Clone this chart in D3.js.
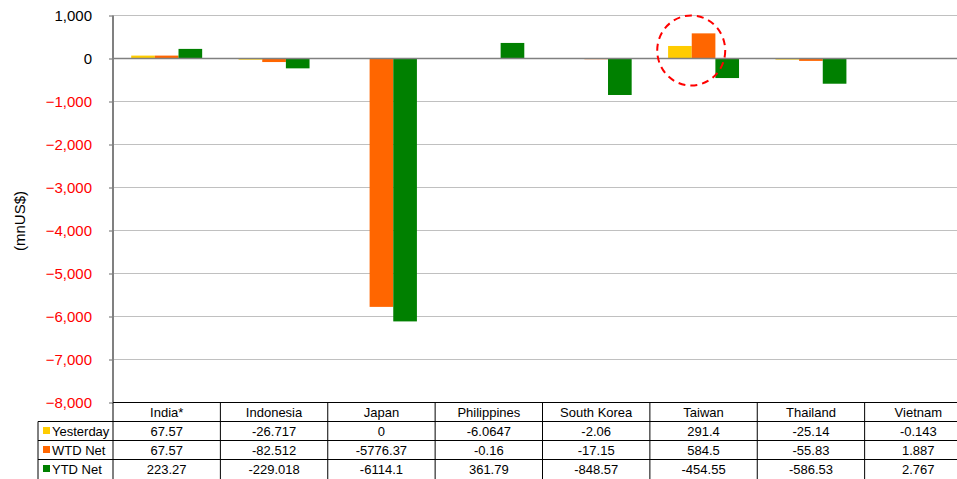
<!DOCTYPE html>
<html><head><meta charset="utf-8">
<script src="https://cdn.jsdelivr.net/npm/d3@7"></script>
<style>body{margin:0;background:#fff;overflow:hidden}svg{display:block}text{font-family:Arial,"Liberation Sans",sans-serif}</style>
</head><body>
<script>
const categories = ["India*","Indonesia","Japan","Philippines","South Korea","Taiwan","Thailand","Vietnam"];
const seriesNames = ["Yesterday","WTD Net","YTD Net"];
const yesterday = [67.57,-26.717,0,-6.0647,-2.06,291.4,-25.14,-0.143];
const wtdNet = [67.57,-82.512,-5776.37,-0.16,-17.15,584.5,-55.83,1.887];
const ytdNet = [223.27,-229.018,-6114.1,361.79,-848.57,-454.55,-586.53,2.767];
const yesterdayLabels = ["67.57","-26.717","0","-6.0647","-2.06","291.4","-25.14","-0.143"];
const wtdLabels = ["67.57","-82.512","-5776.37","-0.16","-17.15","584.5","-55.83","1.887"];
const ytdLabels = ["223.27","-229.018","-6114.1","361.79","-848.57","-454.55","-586.53","2.767"];
const yTicks = [1000,0,-1000,-2000,-3000,-4000,-5000,-6000,-7000,-8000];
const colors = ["#FFCC00","#FF6600","#008000"];

const W=957,H=479;
const svg=d3.select("body").append("svg").attr("width",W).attr("height",H);
const pLeft=113, pTop=15.5, pBottom=402.5, plotW=859;
const x0=d3.scaleBand().domain(categories).range([pLeft,pLeft+plotW]);
const x1=d3.scaleBand().domain(seriesNames).range([0,x0.bandwidth()]).paddingOuter(0.77);
const y=d3.scaleLinear().domain([-8000,1000]).range([pBottom,pTop]);
const values=[yesterday,wtdNet,ytdNet];
const labels=[yesterdayLabels,wtdLabels,ytdLabels];

// gridlines
svg.append("g").selectAll("line").data(yTicks.filter(t=>t!==0&&t!==-8000)).join("line")
 .attr("x1",pLeft).attr("x2",pLeft+plotW).attr("y1",d=>y(d)).attr("y2",d=>y(d))
 .attr("stroke","#c0c0c0").attr("stroke-width",1.2);

// bars
seriesNames.forEach((s,si)=>{
  svg.append("g").selectAll("rect").data(categories).join("rect")
   .attr("x",c=>x0(c)+x1(s)).attr("width",x1.bandwidth())
   .attr("y",(c,i)=>y(Math.max(0,values[si][i])))
   .attr("height",(c,i)=>Math.abs(y(values[si][i])-y(0)))
   .attr("fill",colors[si]);
});

// zero line
svg.append("line").attr("x1",pLeft).attr("x2",pLeft+plotW).attr("y1",y(0)).attr("y2",y(0))
 .attr("stroke","#808080").attr("stroke-width",1.6);

// y axis
const yAxis=d3.axisLeft(y).tickValues(yTicks).tickSize(4).tickPadding(17).tickFormat(d3.format(","));
const ya=svg.append("g").attr("transform",`translate(${pLeft},0)`).call(yAxis);
ya.select(".domain").attr("stroke","#808080").attr("stroke-width",2).attr("d",`M0,${pTop}V${pBottom}`);
ya.selectAll(".tick line").attr("stroke","#808080").attr("stroke-width",1.2);
ya.selectAll(".tick text").attr("font-size",15).attr("fill",d=>d<0?"#FF0000":"#000");
ya.selectAll("text").style("font-family","Arial, 'Liberation Sans', sans-serif");

svg.append("text").attr("transform","translate(25,221) rotate(-90)").attr("text-anchor","middle")
 .attr("font-size",15).attr("fill","#000").text("(mnUS$)");

// data table
const rowH=19, tTop=pBottom, legLeft=38;
const tbl=svg.append("g");
tbl.selectAll("text.h").data(categories).join("text").attr("class","h")
 .attr("x",c=>x0(c)+x0.bandwidth()/2).attr("y",tTop+rowH/2+5).attr("text-anchor","middle")
 .attr("font-size",13).attr("fill","#000").text(c=>c);
[0,1,2,3].forEach(r=>{
  tbl.append("line").attr("x1",r===0?pLeft:legLeft).attr("x2",pLeft+plotW)
   .attr("y1",tTop+r*rowH).attr("y2",tTop+r*rowH).attr("stroke","#000").attr("stroke-width",1);
});
tbl.selectAll("line.v").data(categories.concat(["end"])).join("line").attr("class","v")
 .attr("x1",(c,i)=>pLeft+i*x0.step()).attr("x2",(c,i)=>pLeft+i*x0.step())
 .attr("y1",tTop).attr("y2",H+10).attr("stroke","#000").attr("stroke-width",1);
tbl.append("line").attr("x1",legLeft).attr("x2",legLeft).attr("y1",tTop+rowH).attr("y2",H+10).attr("stroke","#000");
seriesNames.forEach((s,si)=>{
  const ry=tTop+(si+1)*rowH;
  tbl.append("rect").attr("x",legLeft+5).attr("y",ry+5.5).attr("width",7).attr("height",7).attr("fill",colors[si]);
  tbl.append("text").attr("x",legLeft+14).attr("y",ry+rowH/2+5).attr("font-size",13).attr("fill","#000").text(s);
  tbl.selectAll(null).data(categories).join("text")
   .attr("x",c=>x0(c)+x0.bandwidth()/2).attr("y",ry+rowH/2+5).attr("text-anchor","middle")
   .attr("font-size",13).attr("fill","#000").text((c,i)=>labels[si][i]);
});

// red dashed circle annotation around Taiwan
const cx=x0("Taiwan")+x0.bandwidth()*0.385, cy=y(0)-8;
svg.append("ellipse").attr("cx",cx).attr("cy",cy).attr("rx",34).attr("ry",35)
 .attr("fill","none").attr("stroke","#FF0000").attr("stroke-width",2).attr("stroke-dasharray","7,5");
</script>
</body></html>
